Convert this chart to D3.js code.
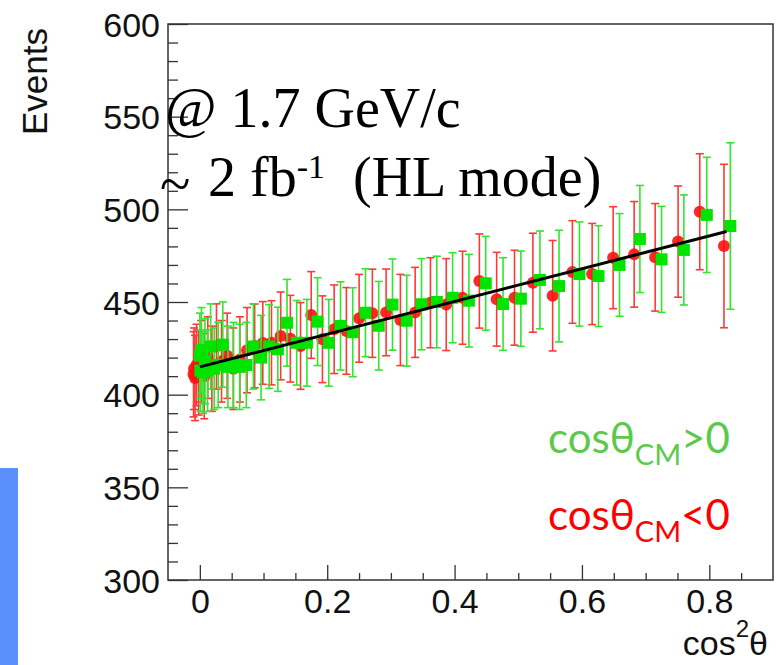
<!DOCTYPE html>
<html><head><meta charset="utf-8">
<script src="https://cdn.jsdelivr.net/npm/d3@7"></script>
<style>body{margin:0;background:#fff}svg{display:block}</style>
</head><body><svg id="c" width="779" height="665"></svg>
<script>
// ---- data ----
const greenX=[0.0001,0.0009,0.0025,0.0049,0.0081,0.0121,0.0169,0.0225,0.0289,0.0361,0.0441,0.0529,0.0625,0.0729,0.0841,0.0961,0.1089,0.1225,0.1369,0.1521,0.1681,0.1849,0.2025,0.2209,0.2401,0.2601,0.2809,0.3025,0.3249,0.3481,0.3721,0.3969,0.4225,0.4489,0.4761,0.5041,0.534,0.564,0.596,0.626,0.659,0.691,0.725,0.760,0.796,0.833];
const greenY=[421,413,424,412,418,413,426,414,416,427,415,416,415,416,426,420,426,424.5,438.8,428,428,439.4,428,437.1,433.7,444.2,437.2,448.6,439.9,448.8,450.0,452.3,450.7,460.1,448.9,451.8,461.9,458.6,465.1,464.0,470.0,484.0,473.0,478.1,497.0,491.0];
const greenErr=[23,22,23,22,23,22,23,22,23,23,22,23,23,23,23,22.8,22.6,22.7,23.4,22.8,23.4,23.7,23.4,23.8,24.0,23.7,23.9,24.6,24.5,24.6,24.7,24.3,25.0,25.3,25.0,25.7,26.4,30.1,28.1,27.2,27.7,28.9,28.6,29.7,31.1,44.9];
const redX=[-0.0099,-0.0091,-0.0075,-0.0051,-0.0019,0.0021,0.0069,0.0125,0.0189,0.0261,0.0341,0.0429,0.0525,0.0629,0.0741,0.0861,0.0989,0.1125,0.1269,0.1421,0.1581,0.1749,0.1925,0.2109,0.2301,0.2501,0.2709,0.2925,0.3149,0.3381,0.3621,0.3869,0.4125,0.4389,0.4661,0.4941,0.523,0.554,0.585,0.616,0.649,0.682,0.715,0.751,0.785,0.823];
const redY=[411,414,409,416,412,418,410,420,414,426,418,421,414,419,424,426.3,427.9,428,431.7,430.2,426.3,443.0,429.9,435.3,434.4,441.2,443.9,444.4,440.3,444.4,449.6,448.6,452.3,461.3,451.5,452.3,460.4,453.4,466.2,465.1,473.9,475.7,474.1,482.6,498.7,480.2];
const redErr=[23,22,23,22,23,22,23,22,23,23,22,23,22,23,23,22.6,22.3,22.7,23.7,23.4,23.4,23.4,23.4,23.9,23.4,23.7,23.8,23.4,24.6,24.3,24.3,24.8,25.1,25.4,25.3,25.6,26.7,29.8,27.7,27.3,27.5,28.5,29.0,30.0,31.3,44.1];
const fitX=[0,0.827];
const fitY=[415,488];
const xTicks=[0,0.2,0.4,0.6,0.8];
const xTickLabels=["0","0.2","0.4","0.6","0.8"];
const xMinor=[0.05,0.1,0.15,0.25,0.3,0.35,0.45,0.5,0.55,0.65,0.7,0.75,0.85];
const yTicks=[300,350,400,450,500,550,600];
const yTickLabels=["300","350","400","450","500","550","600"];
const yMinor=[310,320,330,340,360,370,380,390,410,420,430,440,460,470,480,490,510,520,530,540,560,570,580,590];

const svg=d3.select('#c');
const x=d3.scaleLinear().domain([-0.05,0.9]).range([168,773]);
const y=d3.scaleLinear().domain([300,600]).range([580,24]);

// side decoration
svg.append('rect').attr('x',0).attr('y',468).attr('width',18).attr('height',197).attr('fill','#5b8ffb');

// axes
const axStyle=g=>{g.select('.domain').remove();g.selectAll('line').attr('stroke','#333').attr('stroke-width',1.3);
  g.selectAll('text').attr('font-family','Liberation Sans, Arial, sans-serif').attr('font-size',34).attr('fill','#111');};
svg.append('g').attr('transform','translate(168,0)')
  .call(d3.axisLeft(y).tickValues(yTicks).tickSize(-20).tickPadding(8).tickFormat((d,i)=>yTickLabels[i])).call(axStyle)
  .selectAll('text').attr('dy','0.36em');
svg.append('g').attr('transform','translate(168,0)')
  .call(d3.axisLeft(y).tickValues(yMinor).tickSize(-10).tickFormat('')).call(axStyle);
svg.append('g').attr('transform','translate(0,580)')
  .call(d3.axisBottom(x).tickValues(xTicks).tickSize(-15).tickPadding(9).tickFormat((d,i)=>xTickLabels[i])).call(axStyle)
  .selectAll('text').attr('dy','0.72em');
svg.append('g').attr('transform','translate(0,580)')
  .call(d3.axisBottom(x).tickValues(xMinor).tickSize(-7).tickFormat('')).call(axStyle);
svg.append('rect').attr('x',168).attr('y',24).attr('width',605).attr('height',556)
  .attr('fill','none').attr('stroke','#333').attr('stroke-width',1.5);

// axis titles
svg.append('text').attr('transform','translate(47,28) rotate(-90)').attr('text-anchor','end')
  .attr('font-family','Liberation Sans, Arial, sans-serif').attr('font-size',35).attr('fill','#111').text('Events');
const xt=svg.append('text').attr('x',768).attr('y',655).attr('text-anchor','end')
  .attr('font-family','Liberation Sans, Arial, sans-serif').attr('font-size',34).attr('fill','#111');
xt.append('tspan').text('cos');
xt.append('tspan').attr('font-size',24).attr('dy',-18).text('2');
xt.append('tspan').attr('dy',18).text('θ');

// series
function series(X,Y,E,col,barCol,shape){
  const g=svg.append('g');
  const d=X.map((v,i)=>({x:v,y:Y[i],e:E[i]}));
  g.selectAll('line.v').data(d).join('line').attr('x1',p=>x(p.x)).attr('x2',p=>x(p.x))
    .attr('y1',p=>y(p.y+p.e)).attr('y2',p=>y(p.y-p.e)).attr('stroke',barCol).attr('stroke-width',1.6);
  [1,-1].forEach(s=>g.selectAll('line.c'+s).data(d).join('line').attr('x1',p=>x(p.x)-4).attr('x2',p=>x(p.x)+4)
    .attr('y1',p=>y(p.y+s*p.e)).attr('y2',p=>y(p.y+s*p.e)).attr('stroke',barCol).attr('stroke-width',1.6));
  if(shape==='circle'){
    g.selectAll('circle').data(d).join('circle').attr('cx',p=>x(p.x)).attr('cy',p=>y(p.y)).attr('r',6).attr('fill',col).attr('opacity',0.9);
  } else {
    g.selectAll('rect').data(d).join('rect').attr('x',p=>x(p.x)-6).attr('y',p=>y(p.y)-6).attr('width',12).attr('height',12).attr('fill',col);
  }
}
series(redX,redY,redErr,'#ff1010','#ff3838','circle');
series(greenX,greenY,greenErr,'#00e400','#2ee82e','square');

// fit line
svg.append('line').attr('x1',x(fitX[0])).attr('y1',y(fitY[0])).attr('x2',x(fitX[1])).attr('y2',y(fitY[1]))
  .attr('stroke','#000').attr('stroke-width',3);

// annotations
const serif='Liberation Serif, Times New Roman, serif';
svg.append('text').attr('x',165).attr('y',127).attr('font-family',serif).attr('font-size',56).attr('fill','#000').text('@ 1.7 GeV/c');
svg.append('text').attr('x',160).attr('y',203).attr('font-family',serif).attr('font-size',56).attr('fill','#000').text('~');
const t2=svg.append('text').attr('x',208).attr('y',196).attr('font-family',serif).attr('font-size',56).attr('fill','#000');
t2.append('tspan').text('2 fb');
t2.append('tspan').attr('font-size',34).attr('dy',-18).text('-1');
t2.append('tspan').attr('x',353).attr('dy',18).text('(HL mode)');

// legend texts
function leg(yb,col,sym){
  const t=svg.append('text').attr('x',548).attr('y',yb).attr('font-family','Lato, Carlito, sans-serif').attr('font-size',42).attr('fill',col);
  t.append('tspan').text('cosθ');
  t.append('tspan').attr('font-size',29).attr('dy',12).text('CM');
  t.append('tspan').attr('dy',-12).text(sym);
}
leg(453,'#5cc94c','>0');
leg(530,'#ff0000','<0');
</script></body></html>
